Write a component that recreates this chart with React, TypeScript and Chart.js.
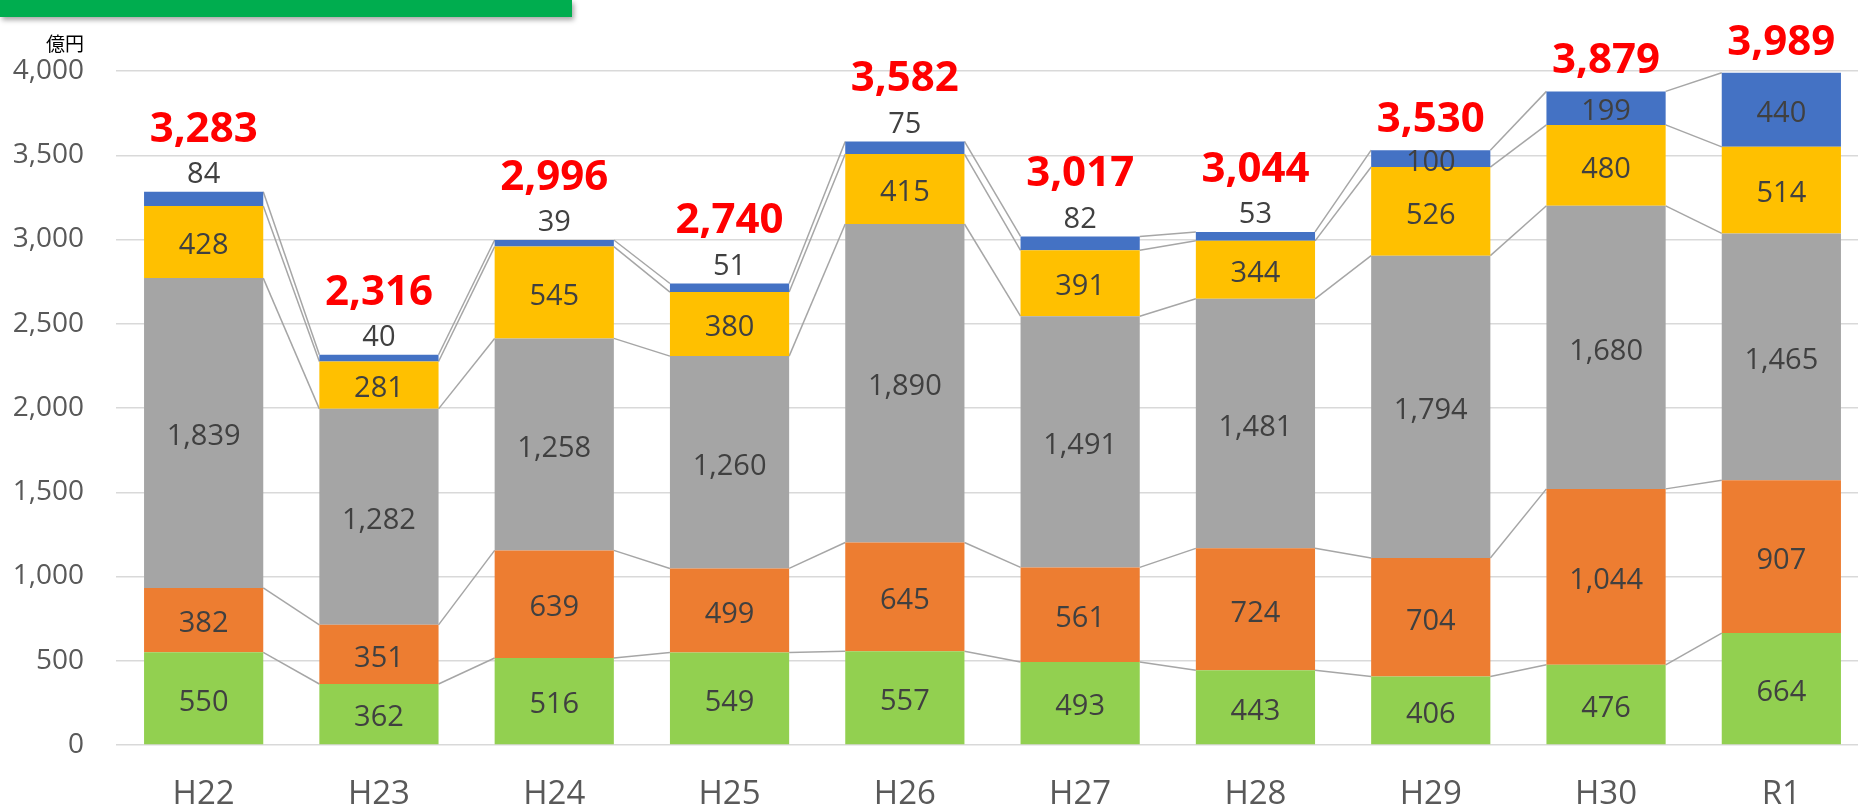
import React, { useEffect, useRef } from 'react';
import { Chart, registerables } from 'chart.js';

Chart.register(...registerables);

const categories = ['H22', 'H23', 'H24', 'H25', 'H26', 'H27', 'H28', 'H29', 'H30', 'R1'];
const greenValues = [550, 362, 516, 549, 557, 493, 443, 406, 476, 664];
const orangeValues = [382, 351, 639, 499, 645, 561, 724, 704, 1044, 907];
const grayValues = [1839, 1282, 1258, 1260, 1890, 1491, 1481, 1794, 1680, 1465];
const yellowValues = [428, 281, 545, 380, 415, 391, 344, 526, 480, 514];
const blueValues = [84, 40, 39, 51, 75, 82, 53, 100, 199, 440];
const totalValues = [3283, 2316, 2996, 2740, 3582, 3017, 3044, 3530, 3879, 3989];
const unitLabel = '億円';

const FONT = '"Open Sans", "Noto Sans", sans-serif';
const fmt = (v: number) => Number(v).toLocaleString('en-US');

export default function App() {
  const ref = useRef<HTMLCanvasElement>(null);

  useEffect(() => {
    if (!ref.current) return;
    const seriesColors = ['#92D050', '#ED7D31', '#A5A5A5', '#FFC000', '#4472C4'];
    const seriesData = [greenValues, orangeValues, grayValues, yellowValues, blueValues];

    const decor = {
      id: 'decor',
      beforeDatasetsDraw(chart: any) {
        const ctx = chart.ctx;
        ctx.save();
        ctx.strokeStyle = '#A6A6A6';
        ctx.lineWidth = 1.5;
        for (let d = 0; d < seriesData.length; d++) {
          const meta = chart.getDatasetMeta(d);
          for (let i = 0; i < meta.data.length - 1; i++) {
            const a = meta.data[i] as any;
            const b = meta.data[i + 1] as any;
            ctx.beginPath();
            ctx.moveTo(a.x + a.width / 2, a.y);
            ctx.lineTo(b.x - b.width / 2, b.y);
            ctx.stroke();
          }
        }
        ctx.restore();
      },
      afterDatasetsDraw(chart: any) {
        const ctx = chart.ctx;
        ctx.save();
        ctx.textAlign = 'center';
        ctx.textBaseline = 'middle';
        const last = seriesData.length - 1;
        for (let d = 0; d < seriesData.length; d++) {
          const meta = chart.getDatasetMeta(d);
          meta.data.forEach((el: any, i: number) => {
            const v = seriesData[d][i];
            ctx.font = `29px ${FONT}`;
            ctx.fillStyle = '#404040';
            if (d === last && v < 100) {
              ctx.fillText(fmt(v), el.x, el.y - 17);
            } else {
              ctx.fillText(fmt(v), el.x, (el.y + el.base) / 2 + 4);
            }
          });
        }
        // totals
        const topMeta = chart.getDatasetMeta(last);
        topMeta.data.forEach((el: any, i: number) => {
          const outside = blueValues[i] < 100;
          ctx.font = `bold 42px ${FONT}`;
          ctx.fillStyle = '#FF0000';
          ctx.fillText(fmt(totalValues[i]), el.x, el.y - (outside ? 62 : 30));
        });
        // unit label
        ctx.font = `19px "Noto Sans CJK JP", sans-serif`;
        ctx.fillStyle = '#000000';
        ctx.textAlign = 'right';
        ctx.textBaseline = 'alphabetic';
        ctx.fillText(unitLabel, 84, 51);
        ctx.restore();
      },
    };

    const chart = new Chart(ref.current, {
      type: 'bar',
      data: {
        labels: categories,
        datasets: seriesData.map((arr, k) => ({
          data: arr,
          backgroundColor: seriesColors[k],
          borderWidth: 0,
          categoryPercentage: 1,
          barPercentage: 0.68,
        })),
      },
      options: {
        responsive: false,
        animation: false,
        devicePixelRatio: 1,
        layout: { padding: { top: 71, right: 1, left: 0, bottom: 0 } },
        plugins: { legend: { display: false }, tooltip: { enabled: false } },
        scales: {
          x: {
            stacked: true,
            grid: { display: false },
            border: { display: false },
            ticks: { font: { family: FONT, size: 33 }, color: '#595959', padding: 22 },
            afterFit: (s: any) => { s.height = 63; },
          },
          y: {
            stacked: true,
            min: 0,
            max: 4000,
            ticks: {
              stepSize: 500,
              callback: (v: any) => fmt(v),
              font: { family: FONT, size: 28 },
              color: '#595959',
              padding: 32,
            },
            grid: { color: '#D9D9D9', lineWidth: 1.5, drawTicks: false },
            border: { display: false },
            afterFit: (s: any) => { s.width = 116; },
          },
        },
      },
      plugins: [decor],
    } as any);
    return () => chart.destroy();
  }, []);

  return (
    <div style={{ position: 'fixed', left: 0, top: 0, width: 1858, height: 808, overflow: 'hidden', background: '#ffffff' }}>
      <canvas ref={ref} width={1870} height={808} style={{ display: 'block', width: 1870, height: 808 }} />
      <div style={{ position: 'absolute', left: 0, top: 0, width: 572, height: 17, background: '#00AD4F', boxShadow: '2px 3px 5px rgba(0,0,0,0.35)' }} />
    </div>
  );
}
